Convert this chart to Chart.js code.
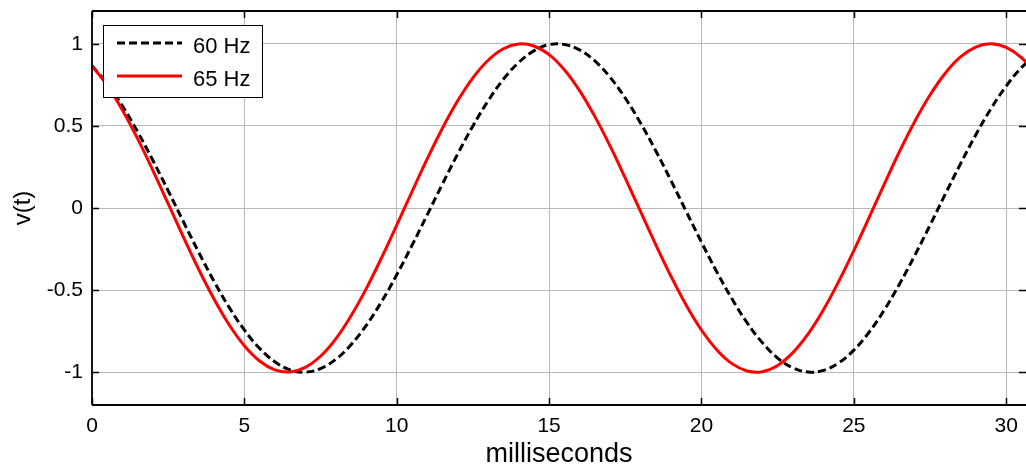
<!DOCTYPE html>
<html><head><meta charset="utf-8">
<script src="https://cdn.jsdelivr.net/npm/chart.js@4.4.1/dist/chart.umd.min.js"></script>
<style>html,body{margin:0;padding:0;background:#fff;overflow:hidden}canvas{display:block}</style>
</head><body>
<canvas id="c" width="1026" height="471"></canvas>
<script>
const timesMs = [0,0.5,1,1.5,2,2.5,3,3.5,4,4.5,5,5.5,6,6.5,7,7.5,8,8.5,9,9.5,
  10,10.5,11,11.5,12,12.5,13,13.5,14,14.5,15,15.5,16,16.5,17,17.5,18,18.5,19,19.5,
  20,20.5,21,21.5,22,22.5,23,23.5,24,24.5,25,25.5,26,26.5,27,27.5,28,28.5,29,29.5,
  30,30.5,31];
const v60Hz = [0.866,0.757,0.621,0.463,0.289,0.105,-0.084,-0.269,-0.445,-0.605,
  -0.743,-0.855,-0.937,-0.986,-1.000,-0.978,-0.922,-0.833,-0.715,-0.571,
  -0.407,-0.228,-0.042,0.146,0.329,0.500,0.653,0.784,0.886,0.957,
  0.995,0.996,0.963,0.896,0.797,0.669,0.518,0.349,0.167,-0.021,
  -0.208,-0.388,-0.553,-0.700,-0.821,-0.914,-0.974,-0.999,-0.989,-0.944,
  -0.866,-0.757,-0.621,-0.463,-0.289,-0.105,0.084,0.269,0.445,0.605,
  0.743,0.855,0.937];
const v65Hz = [0.866,0.747,0.596,0.421,0.228,0.026,-0.177,-0.373,-0.553,-0.711,
  -0.839,-0.932,-0.986,-0.999,-0.971,-0.903,-0.797,-0.657,-0.491,-0.304,
  -0.105,0.099,0.299,0.486,0.653,0.793,0.900,0.970,0.999,0.987,
  0.934,0.842,0.715,0.558,0.378,0.182,-0.021,-0.223,-0.416,-0.592,
  -0.743,-0.863,-0.948,-0.993,-0.997,-0.959,-0.881,-0.767,-0.621,-0.449,
  -0.259,-0.058,0.146,0.344,0.527,0.688,0.821,0.920,0.980,1.000,
  0.978,0.916,0.815];
const seriesLabels = ['60 Hz','65 Hz'];
const xTickValues = [0,5,10,15,20,25,30];
const xTickLabels = ['0','5','10','15','20','25','30'];
const yTickValues = [-1,-0.5,0,0.5,1];
const yTickLabels = ['-1','-0.5','0','0.5','1'];
const xTitle = 'milliseconds';
const yTitle = 'v(t)';

const FONT = '"Liberation Sans", Arial, sans-serif';
const toPts = (ys) => timesMs.map((t,i)=>({x:t,y:ys[i]}));

const datasets = [
  {label:seriesLabels[0], data:toPts(v60Hz), borderColor:'#000000', borderWidth:3, borderDash:[8,4], pointRadius:0, tension:0.4, order:2, fill:false},
  {label:seriesLabels[1], data:toPts(v65Hz), borderColor:'#ff0000', borderWidth:3, pointRadius:0, tension:0.4, order:1, fill:false}
];

const framePlugin = {
  id:'frame',
  afterDatasetsDraw(chart){
    const {ctx, chartArea:a, scales:{x,y}} = chart;
    ctx.save();
    ctx.strokeStyle='#000'; ctx.lineWidth=1.8; ctx.setLineDash([]);
    const line=(x1,y1,x2,y2)=>{ctx.beginPath();ctx.moveTo(x1,y1);ctx.lineTo(x2,y2);ctx.stroke();};
    line(a.left,a.top,a.right,a.top);
    line(a.left,a.top,a.left,a.bottom);
    line(a.left,a.bottom,a.right,a.bottom);
    ctx.lineWidth=1.5;
    const L=7;
    xTickValues.forEach(v=>{const px=Math.round(x.getPixelForValue(v))+0.5; line(px,a.bottom,px,a.bottom-L); line(px,a.top,px,a.top+L);});
    yTickValues.forEach(v=>{const py=Math.round(y.getPixelForValue(v))+0.5; line(a.left,py,a.left+L,py); line(a.right,py,a.right-L,py);});
    // legend
    const bx=103, by=25, bw=159, bh=72;
    ctx.fillStyle='#fff'; ctx.fillRect(bx,by,bw,bh);
    ctx.lineWidth=1; ctx.strokeStyle='#000';
    ctx.strokeRect(bx+0.5,by+0.5,bw,bh);
    const rows=[43,76];
    chart.data.datasets.forEach((ds,i)=>{
      ctx.save();
      ctx.strokeStyle=ds.borderColor; ctx.lineWidth=ds.borderWidth;
      ctx.setLineDash(ds.borderDash||[]);
      line(117,rows[i],182,rows[i]);
      ctx.restore();
      ctx.fillStyle='#000'; ctx.font='22px '+FONT; ctx.textBaseline='middle'; ctx.textAlign='left';
      ctx.fillText(ds.label,193,rows[i]+4);
    });
    ctx.restore();
  }
};

new Chart(document.getElementById('c'), {
  type:'scatter',
  data:{datasets},
  options:{
    responsive:false, animation:false, showLine:true,
    layout:{padding:{top:11,left:0,right:0,bottom:0}},
    plugins:{legend:{display:false}, tooltip:{enabled:false}},
    scales:{
      x:{type:'linear', min:0, max:30.65,
        afterBuildTicks:(s)=>{s.ticks=xTickValues.map(v=>({value:v}));},
        afterFit:(s)=>{s.height=66; s.paddingLeft=0; s.paddingRight=0;},
        grid:{color:'#b8b8b8', lineWidth:1, drawTicks:false},
        border:{display:false},
        ticks:{padding:9, color:'#000', font:{family:FONT,size:21}, maxRotation:0, autoSkip:false,
          callback:(v)=>{const i=xTickValues.indexOf(v); return i>=0?xTickLabels[i]:'';}},
        title:{display:true, text:xTitle, color:'#000', font:{family:FONT,size:27}, padding:{top:0,bottom:0}}
      },
      y:{type:'linear', min:-1.2, max:1.2,
        afterBuildTicks:(s)=>{s.ticks=yTickValues.map(v=>({value:v}));},
        afterFit:(s)=>{s.width=92; s.paddingTop=0; s.paddingBottom=0;},
        grid:{color:'#b8b8b8', lineWidth:1, drawTicks:false},
        border:{display:false},
        ticks:{padding:9, color:'#000', font:{family:FONT,size:21}, autoSkip:false,
          callback:(v)=>{const i=yTickValues.indexOf(v); return i>=0?yTickLabels[i]:'';}},
        title:{display:true, text:yTitle, color:'#000', font:{family:FONT,size:24}, padding:{top:9,bottom:0}}
      }
    }
  },
  plugins:[framePlugin]
});
</script>
</body></html>
